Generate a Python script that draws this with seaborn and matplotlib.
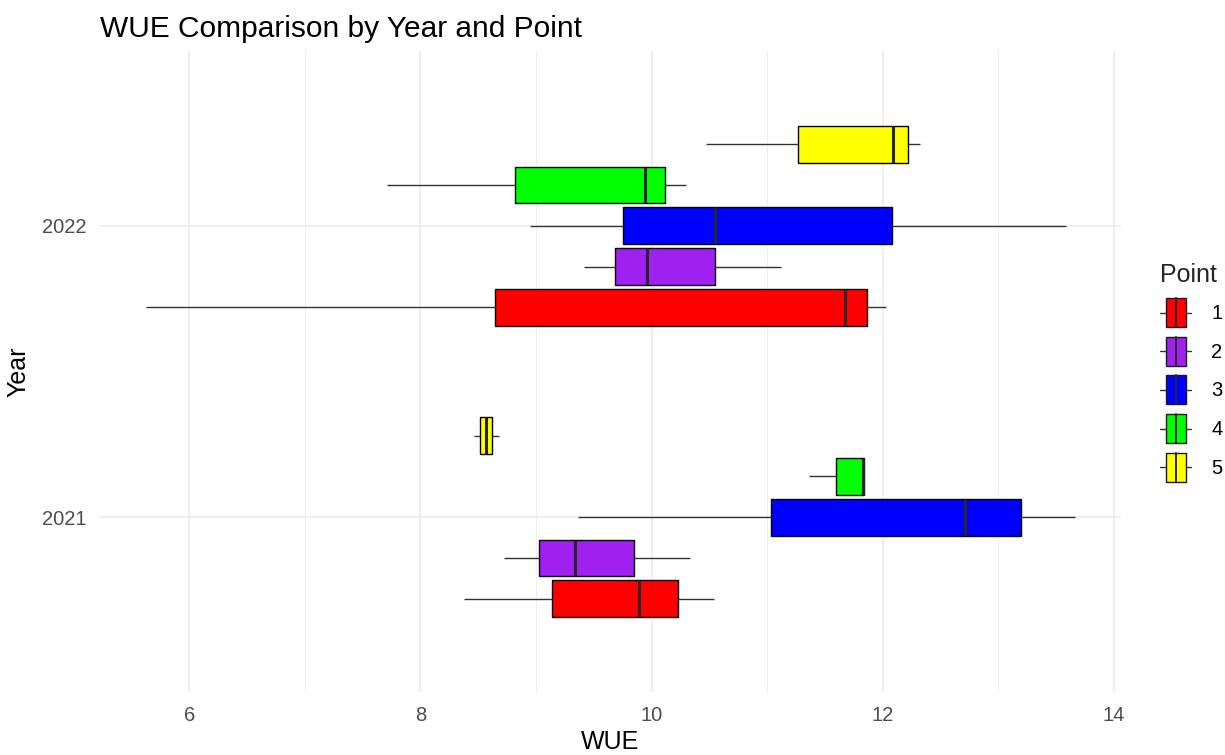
import numpy as np
import pandas as pd
import matplotlib
matplotlib.use("Agg")
import matplotlib.pyplot as plt
import seaborn as sns
from matplotlib.patches import Patch, Rectangle
from matplotlib.lines import Line2D
from matplotlib.legend_handler import HandlerBase
from matplotlib.ticker import MultipleLocator

# ---- data: five-number summaries of WUE for each point (min, Q1, median, Q3, max)
years = ["2021", "2022"]
points = ["1", "2", "3", "4", "5"]
point_colors = ["#FF0000", "#A020F0", "#0000FF", "#00FF00", "#FFFF00"]

wue_min_2021 = [8.38, 8.72, 9.36, 11.36, 8.46]
wue_q1_2021 = [9.14, 9.03, 11.03, 11.60, 8.52]
wue_med_2021 = [9.89, 9.34, 12.71, 11.83, 8.57]
wue_q3_2021 = [10.23, 9.85, 13.20, 11.84, 8.62]
wue_max_2021 = [10.54, 10.33, 13.66, 11.84, 8.68]

wue_min_2022 = [5.63, 9.42, 8.95, 7.71, 10.47]
wue_q1_2022 = [8.65, 9.68, 9.75, 8.82, 11.27]
wue_med_2022 = [11.67, 9.96, 10.55, 9.94, 12.09]
wue_q3_2022 = [11.86, 10.55, 12.08, 10.12, 12.22]
wue_max_2022 = [12.03, 11.12, 13.59, 10.30, 12.32]

summaries = {
    "2021": (wue_min_2021, wue_q1_2021, wue_med_2021, wue_q3_2021, wue_max_2021),
    "2022": (wue_min_2022, wue_q1_2022, wue_med_2022, wue_q3_2022, wue_max_2022),
}

# five observations per group reproduce the quartiles exactly
rows = []
for yr in years:
    cols = summaries[yr]
    for i, pt in enumerate(points):
        for col in cols:
            rows.append({"Year": yr, "Point": pt, "WUE": col[i]})
df = pd.DataFrame(rows)

# ---- style
sns.set_style("white")
plt.rcParams["font.family"] = ["Liberation Sans", "DejaVu Sans"]

W, H = 1225, 755
fig = plt.figure(figsize=(W / 100, H / 100), dpi=100)
left, right, top, bottom = 100, 1121, 51, 692
ax = fig.add_axes([left / W, 1 - bottom / H, (right - left) / W, (bottom - top) / H])

sns.boxplot(
    data=df, x="WUE", y="Year", hue="Point",
    order=years, hue_order=points, palette=point_colors, saturation=1,
    orient="h", width=0.70, gap=0.10, whis=np.inf,
    showcaps=False, linewidth=1.0, linecolor="black",
    medianprops=dict(color="#262626", linewidth=2.2),
    whiskerprops=dict(color="#333333", linewidth=1.0),
    legend=False, ax=ax, zorder=3,
)

# axis ranges (5% padding on the continuous axis, 0.6 on the discrete one)
all_vals = df["WUE"].to_numpy()
span = all_vals.max() - all_vals.min()
ax.set_xlim(all_vals.min() - 0.05 * span, all_vals.max() + 0.05 * span)
ax.set_ylim(-0.6, len(years) - 1 + 0.6)

ax.xaxis.set_major_locator(MultipleLocator(2))
ax.xaxis.set_minor_locator(MultipleLocator(1))
ax.set_axisbelow(True)
ax.grid(which="major", axis="both", color="#EBEBEB", linewidth=1.1)
ax.grid(which="minor", axis="x", color="#EBEBEB", linewidth=0.6)
for s in ax.spines.values():
    s.set_visible(False)
ax.tick_params(axis="both", which="both", length=0, labelsize=14.5,
               labelcolor="#4D4D4D")
ax.tick_params(axis="x", pad=10)
ax.tick_params(axis="y", pad=10)

ax.set_xlabel("WUE", fontsize=18, color="black", labelpad=4)
ax.set_ylabel("Year", fontsize=18, color="black", labelpad=8)

fig.text(left / W, 1 - 37 / H, "WUE Comparison by Year and Point",
         fontsize=21.5, color="black", ha="left", va="baseline")


# ---- legend with boxplot-shaped keys
class BoxKey(HandlerBase):
    def create_artists(self, legend, orig_handle, xdescent, ydescent,
                       width, height, fontsize, trans):
        x0, y0 = -xdescent, -ydescent
        ymid = y0 + height / 2
        whisk = Line2D([x0, x0 + width], [ymid, ymid], color="#333333",
                       linewidth=1.0, transform=trans)
        bx0 = x0 + 0.18 * width
        box = Rectangle((bx0, y0), 0.64 * width, height,
                        facecolor=orig_handle.get_facecolor(),
                        edgecolor="#1a1a1a", linewidth=1.0, transform=trans)
        med = Line2D([x0 + width / 2] * 2, [y0, y0 + height], color="#262626",
                     linewidth=1.4, transform=trans)
        return [whisk, box, med]


handles = [Patch(facecolor=c, label=p) for p, c in zip(points, point_colors)]
leg = fig.legend(
    handles=handles, title="Point", loc="upper left",
    bbox_to_anchor=(1160 / W, 1 - 263 / H), frameon=False,
    fontsize=14.5, title_fontsize=18,
    handler_map={Patch: BoxKey()},
    handlelength=1.55, handleheight=1.85, handletextpad=1.0,
    labelspacing=0.47, borderpad=0, borderaxespad=0,
)
leg._legend_box.align = "left"
leg._legend_box.sep = 8
for t in leg.get_texts():
    t.set_color("black")

fig.savefig("out.png", dpi=100, facecolor="white")
